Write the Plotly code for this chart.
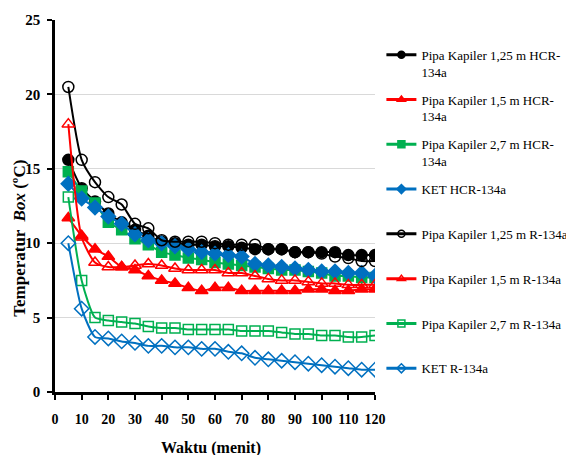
import plotly.graph_objects as go

waktu = [5, 10, 15, 20, 25, 30, 35, 40, 45, 50, 55, 60, 65, 70, 75, 80, 85, 90, 95, 100, 105, 110, 115, 120]

pk125_hcr = [15.6, 13.7, 12.8, 12.0, 11.4, 10.9, 10.5, 10.1, 10.0, 9.9, 9.9, 9.8, 9.8, 9.7, 9.6, 9.6, 9.6, 9.4, 9.4, 9.4, 9.4, 9.2, 9.2, 9.2]
pk15_hcr = [11.7, 10.5, 9.6, 9.1, 8.4, 8.2, 7.8, 7.5, 7.3, 7.0, 6.8, 7.0, 7.0, 6.8, 6.8, 6.8, 6.8, 6.8, 6.9, 6.9, 6.8, 6.8, 6.9, 6.9]
pk27_hcr = [14.8, 13.5, 12.7, 11.4, 10.9, 10.3, 9.9, 9.4, 9.2, 9.0, 8.9, 8.7, 8.6, 8.5, 8.4, 8.3, 8.2, 8.2, 8.1, 8.0, 7.8, 7.8, 7.7, 7.7]
ket_hcr = [14.0, 13.0, 12.4, 11.8, 11.3, 10.6, 10.2, 10.0, 9.8, 9.6, 9.4, 9.3, 9.2, 9.1, 8.6, 8.5, 8.4, 8.3, 8.2, 8.1, 8.1, 8.0, 8.0, 7.8]
pk125_r = [20.5, 15.6, 14.1, 13.1, 12.6, 11.3, 11.0, 10.2, 10.1, 10.1, 10.1, 10.0, 9.9, 9.9, 9.9, 9.6, 9.6, 9.4, 9.4, 9.3, 9.1, 9.0, 8.8, 8.8]
pk15_r = [18.0, 10.4, 8.7, 8.4, 8.4, 8.5, 8.6, 8.5, 8.3, 8.2, 8.2, 8.2, 8.0, 8.0, 7.8, 7.6, 7.5, 7.5, 7.4, 7.3, 7.3, 7.2, 7.2, 7.2]
pk27_r = [13.1, 7.5, 5.0, 4.8, 4.7, 4.6, 4.4, 4.3, 4.3, 4.2, 4.2, 4.2, 4.2, 4.1, 4.1, 4.1, 4.0, 3.9, 3.9, 3.8, 3.8, 3.7, 3.7, 3.8]
ket_r = [10.0, 5.6, 3.7, 3.6, 3.4, 3.3, 3.1, 3.1, 3.0, 3.0, 2.9, 2.9, 2.7, 2.6, 2.3, 2.2, 2.1, 2.0, 1.9, 1.8, 1.7, 1.6, 1.5, 1.5]

names = [
    "Pipa Kapiler 1,25 m HCR-<br>134a",
    "Pipa Kapiler 1,5 m HCR-<br>134a",
    "Pipa Kapiler 2,7 m HCR-<br>134a",
    "KET HCR-134a<br>&nbsp;",
    "Pipa Kapiler 1,25 m R-134a<br>&nbsp;",
    "Pipa Kapiler 1,5 m R-134a<br>&nbsp;",
    "Pipa Kapiler 2,7 m R-134a<br>&nbsp;",
    "KET R-134a<br>&nbsp;",
]
series = [pk125_hcr, pk15_hcr, pk27_hcr, ket_hcr, pk125_r, pk15_r, pk27_r, ket_r]
colors = ["#000000", "#FF0000", "#00B050", "#0070C0", "#000000", "#FF0000", "#00B050", "#0070C0"]
symbols = ["circle", "triangle-up", "square", "diamond",
           "circle-open", "triangle-up-open", "square-open", "diamond-open"]
sizes = [11, 11, 10, 11, 11, 11, 10, 11]

fig = go.Figure()
for i, (nm, ys, c, s, sz) in enumerate(zip(names, series, colors, symbols, sizes)):
    fig.add_trace(go.Scatter(
        x=waktu, y=ys, name=nm, mode="lines+markers", showlegend=False,
        line=dict(color=c, width=2, shape="spline", smoothing=0.6),
        marker=dict(symbol=s, size=sz, color=c, line=dict(color=c, width=1.5)),
        legendgroup=str(i),
    ))
# legend entries (smaller legend symbols, as in the reference)
for i, (nm, c, s) in enumerate(zip(names, colors, symbols)):
    fig.add_trace(go.Scatter(
        x=[None], y=[None], name=nm, mode="lines+markers", showlegend=True,
        line=dict(color=c, width=3),
        marker=dict(symbol=s, size=7, color=c, line=dict(color=c, width=1.5)),
        legendgroup=str(i), hoverinfo="skip",
    ))

serif = "Times New Roman"
fig.update_layout(
    width=566, height=447,
    margin=dict(l=47, r=199, t=12, b=63, autoexpand=False),
    paper_bgcolor="white", plot_bgcolor="white",
    font=dict(family=serif, color="black", size=14),
    showlegend=True,
    legend=dict(x=1.02, y=0.947, xanchor="left", yanchor="top",
                font=dict(family=serif, size=13, color="black"),
                valign="top", tracegroupgap=8, itemwidth=30,
                bgcolor="rgba(0,0,0,0)"),
    xaxis=dict(range=[0, 120], dtick=10, tick0=0, showgrid=False,
               showline=True, linecolor="black", linewidth=2.5,
               ticks="outside", ticklen=5, tickwidth=2, tickcolor="black",
               ticklabelstandoff=7,
               tickfont=dict(family=serif, size=14, color="black", weight="bold"),
               zeroline=False, automargin=False),
    yaxis=dict(range=[0, 25], dtick=5, tick0=0, showgrid=True, gridcolor="#D9D9D9", gridwidth=1,
               showline=True, linecolor="black", linewidth=2.5,
               ticks="outside", ticklen=5, tickwidth=2, tickcolor="black",
               ticklabelstandoff=4,
               tickfont=dict(family=serif, size=15, color="black", weight="bold"),
               zeroline=False, automargin=False),
    annotations=[
        dict(text="<b>Temperatur  <i>Box</i> (ºC)</b>", textangle=-90,
             xref="paper", yref="paper", x=-0.146, y=0.414,
             xanchor="left", yanchor="middle", showarrow=False,
             font=dict(family=serif, size=17, color="black")),
        dict(text="<b>Waktu (menit)</b>",
             xref="paper", yref="paper", x=0.488, y=-0.150,
             xanchor="center", yanchor="middle", showarrow=False,
             font=dict(family=serif, size=16, color="black")),
    ],
)

fig.write_html("out.html")
